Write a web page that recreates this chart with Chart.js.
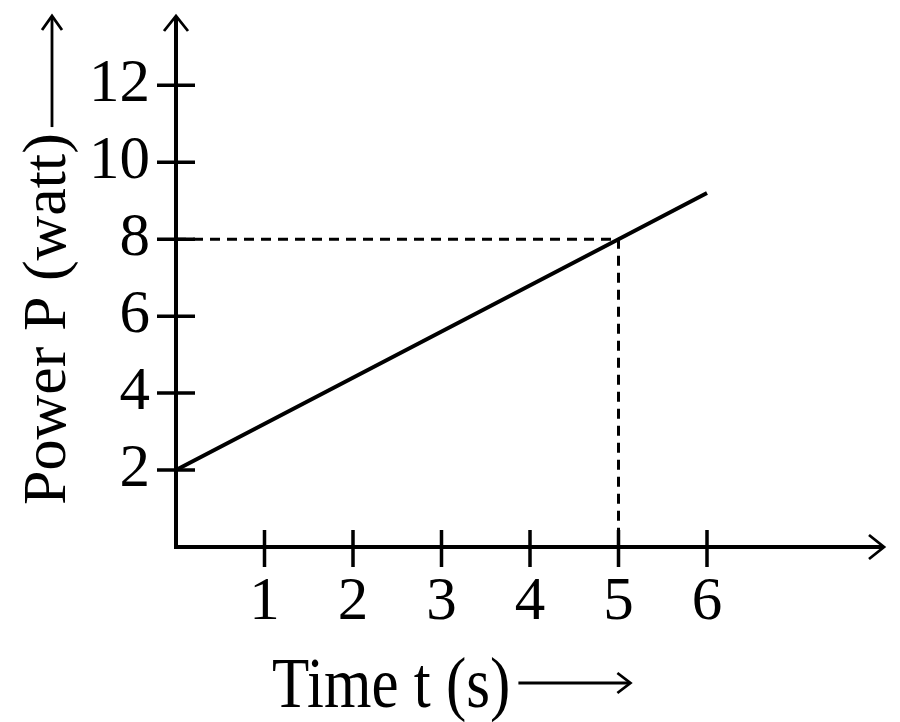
<!DOCTYPE html>
<html>
<head>
<meta charset="utf-8">
<script src="https://cdn.jsdelivr.net/npm/chart.js@4.4.1/dist/chart.umd.min.js"></script>
<style>
  html, body { margin: 0; padding: 0; background: white; overflow: hidden; }
  #chart-box { width: 900px; height: 722px; }
</style>
</head>
<body>
<div id="chart-box"><canvas id="mychart" width="900" height="722"></canvas></div>
<script>
// values
const times = [0, 5, 6];
const power = [2, 8, 9.2];
const guideTimes = [0, 5, 5];
const guidePower = [8, 8, 0];
const xTicks = [1, 2, 3, 4, 5, 6];
const yTicks = [2, 4, 6, 8, 10, 12];
const xTitle = "Time t (s)";
const yTitle = "Power P (watt)";

const serif = "'Liberation Serif', 'Times New Roman', serif";

function toPoints(xs, ys) {
  return xs.map((x, i) => ({ x: x, y: ys[i] }));
}

function drawHead(ctx, tipX, tipY, dirX, dirY, len, half) {
  // open chevron arrow head, dir is the unit direction the arrow points to
  let bx = tipX - dirX * len;
  let by = tipY - dirY * len;
  ctx.beginPath();
  ctx.moveTo(bx - dirY * half, by + dirX * half);
  ctx.lineTo(tipX, tipY);
  ctx.lineTo(bx + dirY * half, by - dirX * half);
  ctx.stroke();
}

const axesPlugin = {
  id: "axesPlugin",
  afterDatasetsDraw(chart) {
    const ctx = chart.ctx;
    const area = chart.chartArea;
    const xScale = chart.scales.x;
    const yScale = chart.scales.y;
    const x0 = xScale.getPixelForValue(0);
    const y0 = yScale.getPixelForValue(0);

    ctx.save();
    ctx.strokeStyle = "black";
    ctx.fillStyle = "black";
    ctx.lineJoin = "miter";

    // axes
    ctx.lineWidth = 4;
    ctx.beginPath();
    ctx.moveTo(x0, area.top + 1);
    ctx.lineTo(x0, y0);
    ctx.lineTo(area.right - 1, y0);
    ctx.stroke();
    ctx.lineWidth = 2.8;
    drawHead(ctx, x0, area.top, 0, -1, 15, 12);
    drawHead(ctx, area.right, y0, 1, 0, 15, 12);

    // tick marks crossing the axes
    ctx.lineWidth = 3.5;
    ctx.beginPath();
    for (let t of xTicks) {
      let px = xScale.getPixelForValue(t);
      ctx.moveTo(px, y0 - 17);
      ctx.lineTo(px, y0 + 20);
    }
    for (let v of yTicks) {
      let py = yScale.getPixelForValue(v);
      ctx.moveTo(x0 - 19, py);
      ctx.lineTo(x0 + 19, py);
    }
    ctx.stroke();

    // x title with arrow
    ctx.font = "61px " + serif;
    ctx.textAlign = "left";
    ctx.textBaseline = "alphabetic";
    let xw = ctx.measureText(xTitle).width;
    ctx.save();
    ctx.translate(272, 707);
    ctx.scale(1, 1.18);
    ctx.fillText(xTitle, 0, 0);
    ctx.restore();
    let ax1 = 272 + xw + 8;
    let ax2 = ax1 + 112;
    ctx.lineWidth = 2.8;
    ctx.beginPath();
    ctx.moveTo(ax1, 683);
    ctx.lineTo(ax2 - 1, 683);
    ctx.stroke();
    drawHead(ctx, ax2, 683, 1, 0, 13, 10);

    // y title with arrow
    ctx.font = "62px " + serif;
    let yw = ctx.measureText(yTitle).width;
    ctx.save();
    ctx.translate(65, 505);
    ctx.rotate(-Math.PI / 2);
    ctx.fillText(yTitle, 0, 0);
    ctx.restore();
    let ay1 = 505 - yw - 6;
    ctx.beginPath();
    ctx.moveTo(52, ay1);
    ctx.lineTo(52, 17);
    ctx.stroke();
    drawHead(ctx, 52, 16, 0, -1, 14, 10);

    ctx.restore();
  }
};

const ctx = document.getElementById("mychart").getContext("2d");
const myChart = new Chart(ctx, {
  type: "scatter",
  data: {
    datasets: [
      {
        label: "Power",
        data: toPoints(times, power),
        showLine: true,
        borderColor: "black",
        borderWidth: 4,
        pointRadius: 0,
        clip: false
      },
      {
        label: "Guide",
        data: toPoints(guideTimes, guidePower),
        showLine: true,
        borderColor: "black",
        borderWidth: 3,
        borderDash: [10, 7],
        pointRadius: 0,
        clip: false
      }
    ]
  },
  options: {
    responsive: false,
    animation: false,
    layout: { padding: { top: 16, right: 16, left: 0, bottom: 0 } },
    plugins: {
      legend: { display: false },
      tooltip: { enabled: false }
    },
    scales: {
      x: {
        type: "linear",
        min: 0,
        max: 8,
        grid: { display: false, drawTicks: false },
        border: { display: false },
        afterBuildTicks: scale => { scale.ticks = xTicks.map(v => ({ value: v })); },
        afterFit: scale => {
          scale.height = 175;
          scale.paddingLeft = 0;
          scale.paddingRight = 0;
        },
        ticks: {
          color: "black",
          padding: 19,
          maxRotation: 0,
          font: { family: serif, size: 61 }
        }
      },
      y: {
        type: "linear",
        min: 0,
        max: 13.8,
        grid: { display: false, drawTicks: false },
        border: { display: false },
        afterBuildTicks: scale => { scale.ticks = yTicks.map(v => ({ value: v })); },
        afterFit: scale => {
          scale.width = 176;
          scale.paddingTop = 0;
          scale.paddingBottom = 0;
        },
        ticks: {
          color: "black",
          padding: 26,
          font: { family: serif, size: 61 }
        }
      }
    }
  },
  plugins: [axesPlugin]
});
</script>
</body>
</html>
